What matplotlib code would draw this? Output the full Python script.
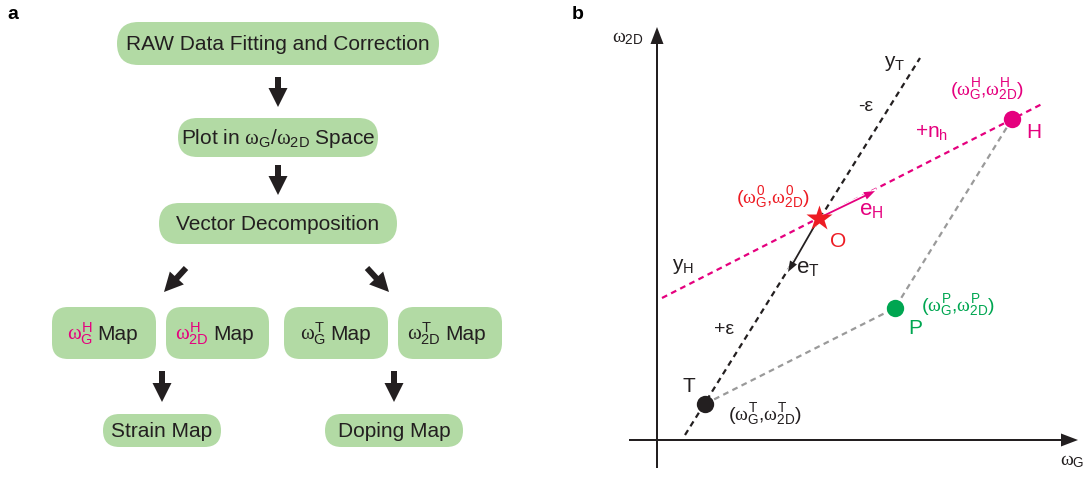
import matplotlib.pyplot as plt
from matplotlib.patches import FancyBboxPatch

plt.rcParams['font.family'] = ['Liberation Sans', 'DejaVu Sans']
plt.rcParams['mathtext.fontset'] = 'custom'
plt.rcParams['mathtext.rm'] = 'Liberation Sans'
plt.rcParams['mathtext.it'] = 'Liberation Serif'
plt.rcParams['mathtext.bf'] = 'Liberation Sans:bold'

GREEN_BOX = '#b2daa4'
INK = '#231f20'
MAGENTA = '#e5007e'
RED = '#ed1c24'
GREEN = '#00a651'
GREY = '#9a9a9a'


def w(sub, sup):
    return r'$\omega_{\mathrm{%s}}^{\mathrm{%s}}$' % (sub, sup)


def pair(sup):
    return (r'$\mathrm{(}\omega_{\mathrm{G}}^{\mathrm{%s}}{,}\omega_{\mathrm{2D}}^{\mathrm{%s}}\mathrm{)}$'
            % (sup, sup))


# ---- panel a: flow chart (pixel coords) ----
pill_text = ['RAW Data Fitting and Correction',
             r'Plot in $\omega_{\mathrm{G}}/\omega_{\mathrm{2D}}$ Space',
             'Vector Decomposition', 'Strain Map', 'Doping Map']
pill_box = [(117, 22, 322, 43), (178, 118, 200, 39), (159, 203, 238, 41),
            (103, 414, 118, 33), (325, 414, 138, 33)]

map_sub = ['G', '2D', 'G', '2D']
map_sup = ['H', 'H', 'T', 'T']
map_col = [MAGENTA, MAGENTA, INK, INK]
map_box = [(52, 307, 104, 52), (166, 307, 103, 52), (284, 307, 104, 52), (398, 307, 104, 52)]
map_split = [93, 209, 326, 441]

flow_arrows = [(278, 77, 278, 107), (278, 165, 278, 195),
               (186, 268, 164, 292), (367, 268, 389, 292),
               (162, 371, 162, 402), (394, 371, 394, 402)]

# ---- panel b: vector diagram (pixel coords) ----
origin = (657, 440)
pt_O = (819, 218)
pt_T = (705, 404)
pt_H = (1012, 119)
pt_P = (895, 308)
yT_ends = [(685, 435), (920, 58)]
yH_ends = [(662, 298), (1042, 104)]
eT_tip = (788, 272)
eH_tip = (875, 191)

fig = plt.figure(figsize=(10.84, 4.79), dpi=100)
ax = fig.add_axes([0, 0, 1, 1])
ax.set_xlim(0, 1084)
ax.set_ylim(479, 0)
ax.axis('off')

ax.text(13, 14, 'a', fontsize=14, fontweight='bold', ha='center', va='center')
ax.text(578, 14, 'b', fontsize=14, fontweight='bold', ha='center', va='center')

for (x, y, bw, bh), t in zip(pill_box, pill_text):
    ax.add_patch(FancyBboxPatch((x, y), bw, bh,
                                boxstyle='round,pad=0,rounding_size=%g' % (bh / 2),
                                fc=GREEN_BOX, ec='none'))
    ax.text(x + bw / 2, y + bh / 2 + 1, t, fontsize=15, color=INK, ha='center', va='center')

for (x, y, bw, bh), s, p, c, xs in zip(map_box, map_sub, map_sup, map_col, map_split):
    ax.add_patch(FancyBboxPatch((x, y), bw, bh,
                                boxstyle='round,pad=0,rounding_size=16',
                                fc=GREEN_BOX, ec='none'))
    ax.text(xs, y + bh / 2 + 1, w(s, p), fontsize=15, color=c, ha='right', va='center')
    ax.text(xs + 4, y + bh / 2 + 1, 'Map', fontsize=15, color=INK, ha='left', va='center')

for x0, y0, x1, y1 in flow_arrows:
    ax.arrow(x0, y0, x1 - x0, y1 - y0, width=6, head_width=19, head_length=19,
             length_includes_head=True, fc=INK, ec='none')

# axes of panel b
ax.arrow(origin[0], 468, 0, 27 - 468, width=2, head_width=13, head_length=17,
         length_includes_head=True, fc=INK, ec='none')
ax.arrow(629, origin[1], 1078 - 629, 0, width=2, head_width=13, head_length=17,
         length_includes_head=True, fc=INK, ec='none')
ax.text(612, 38, r'$\omega_{\mathrm{2D}}$', fontsize=14, color=INK, ha='left', va='center')
ax.text(1060, 462, r'$\omega_{\mathrm{G}}$', fontsize=14, color=INK, ha='left', va='center')

dash = (0, (2.6, 2.0))
ax.plot([e[0] for e in yT_ends], [e[1] for e in yT_ends], color=INK, lw=1.6, ls=dash, zorder=2)
ax.plot([e[0] for e in yH_ends], [e[1] for e in yH_ends], color=MAGENTA, lw=1.6, ls=dash, zorder=2)
ax.plot([pt_T[0], pt_P[0], pt_H[0]], [pt_T[1], pt_P[1], pt_H[1]], color=GREY, lw=1.6, ls=dash, zorder=2)

ax.plot([pt_O[0], eT_tip[0]], [pt_O[1], eT_tip[1]], color='white', lw=3, zorder=3)
ax.arrow(pt_O[0], pt_O[1], eT_tip[0] - pt_O[0], eT_tip[1] - pt_O[1], width=1.8,
         head_width=8, head_length=11, length_includes_head=True, fc=INK, ec='none', zorder=4)
ax.plot([pt_O[0], eH_tip[0]], [pt_O[1], eH_tip[1]], color='white', lw=3, zorder=3)
ax.arrow(pt_O[0], pt_O[1], eH_tip[0] - pt_O[0], eH_tip[1] - pt_O[1], width=1.8,
         head_width=8, head_length=11, length_includes_head=True, fc=MAGENTA, ec='none', zorder=4)

ax.plot(*pt_O, marker='*', ms=19, color=RED, mec='none', zorder=5)
ax.plot(*pt_H, marker='o', ms=12.5, color=MAGENTA, mec='none', zorder=5)
ax.plot(*pt_P, marker='o', ms=12.5, color=GREEN, mec='none', zorder=5)
ax.plot(*pt_T, marker='o', ms=12.5, color=INK, mec='none', zorder=5)

lab = dict(ha='center', va='center')
ax.text(895, 63, r'$\mathrm{y}_{\mathrm{T}}$', fontsize=15, color=INK, **lab)
ax.text(866, 106, '-ε', fontsize=14, color=INK, **lab)
ax.text(987, 90, pair('H'), fontsize=14, color=MAGENTA, **lab)
ax.text(1034, 133, 'H', fontsize=15, color=MAGENTA, **lab)
ax.text(932, 132, r'$\mathrm{+n}_{\mathrm{h}}$', fontsize=15, color=MAGENTA, **lab)
ax.text(773, 198, pair('0'), fontsize=14, color=RED, **lab)
ax.text(871, 210, r'$\mathrm{e}_{\mathrm{H}}$', fontsize=16, color=MAGENTA, **lab)
ax.text(838, 241, 'O', fontsize=15, color=RED, **lab)
ax.text(683, 267, r'$\mathrm{y}_{\mathrm{H}}$', fontsize=15, color=INK, **lab)
ax.text(808, 268, r'$\mathrm{e}_{\mathrm{T}}$', fontsize=16, color=INK, **lab)
ax.text(724, 329, '+ε', fontsize=14, color=INK, **lab)
ax.text(915, 328, 'P', fontsize=15, color=GREEN, **lab)
ax.text(958, 306, pair('P'), fontsize=14, color=GREEN, **lab)
ax.text(689, 387, 'T', fontsize=15, color=INK, **lab)
ax.text(765, 415, pair('T'), fontsize=14, color=INK, **lab)

fig.savefig('out.png', dpi=100)
